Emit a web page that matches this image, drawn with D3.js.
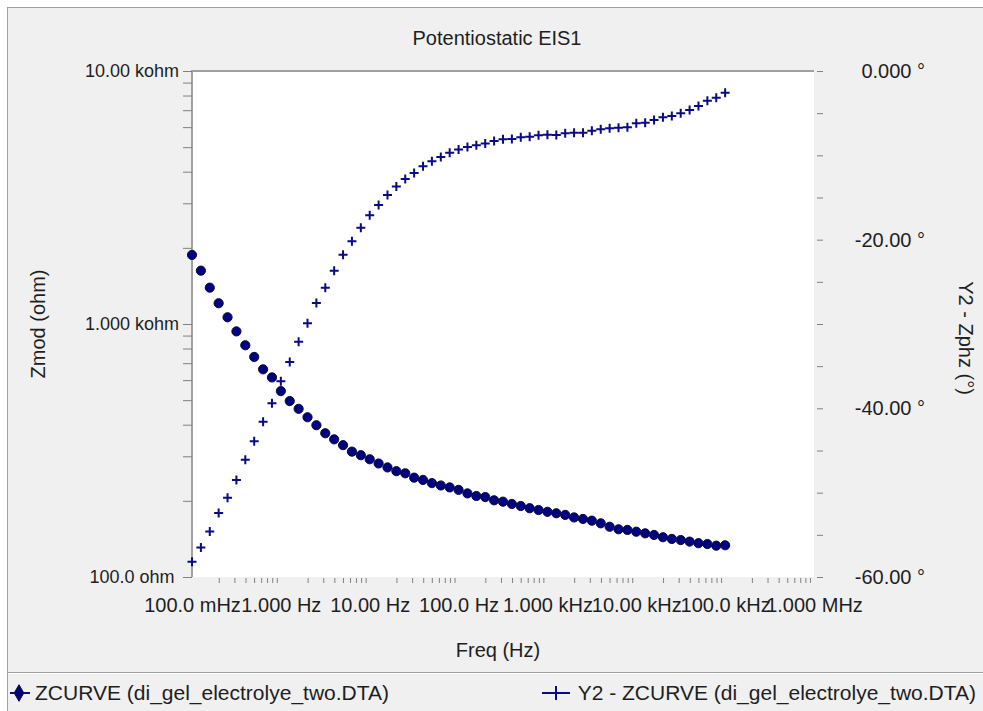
<!DOCTYPE html>
<html><head><meta charset="utf-8">
<script src="https://cdn.jsdelivr.net/npm/d3@7/dist/d3.min.js"></script>
<style>
html,body{margin:0;padding:0;background:#fff;}
svg{display:block;font-family:"Liberation Sans",Arial,sans-serif;}
</style></head>
<body>
<svg id="chart" width="983" height="711"></svg>
<script>
// ---- data ----
const freq = [0.1,0.1259,0.1585,0.1995,0.2512,0.3162,0.3981,0.5012,0.631,0.7943,
 1,1.259,1.585,1.995,2.512,3.162,3.981,5.012,6.31,7.943,
 10,12.59,15.85,19.95,25.12,31.62,39.81,50.12,63.1,79.43,
 100,125.9,158.5,199.5,251.2,316.2,398.1,501.2,631,794.3,
 1000,1259,1585,1995,2512,3162,3981,5012,6310,7943,
 10000,12589,15849,19953,25119,31623,39811,50119,63096,79433,100000];
const zmod = [1875,1625,1392,1208,1063,935,824,741,662,615,
 543,496,462,428,398,370,350,332,313,303,
 292,281,271,262,257,247,242,235,230,226,
 221,214,209,207,201,198.5,194.4,190.8,187,184,
 181,178.6,176,172,169.6,167,163,158,154.4,153.5,
 151,148.8,146.6,143.6,141.4,140,138,136,135,133,133.5];
const zphz = [-58.2,-56.5,-54.6,-52.4,-50.6,-48.5,-46.1,-43.9,-41.6,-39.4,
 -36.8,-34.5,-32.1,-29.9,-27.5,-25.7,-23.7,-21.8,-20.2,-18.6,
 -17.1,-15.9,-14.7,-13.7,-12.8,-12.1,-11.3,-10.7,-10.2,-9.7,
 -9.3,-9.0,-8.8,-8.6,-8.3,-8.1,-8.05,-7.86,-7.79,-7.62,
 -7.55,-7.59,-7.39,-7.32,-7.32,-7.08,-6.91,-6.79,-6.72,-6.68,
 -6.2,-6.13,-5.81,-5.49,-5.34,-5.02,-4.62,-4.15,-3.52,-3.17,-2.57];
const xTickValues = [0.1,1,10,100,1000,10000,100000,1000000];
const xTickLabels = ["100.0 mHz","1.000 Hz","10.00 Hz","100.0 Hz","1.000 kHz","10.00 kHz","100.0 kHz","1.000 MHz"];
const yLeftValues = [100,1000,10000];
const yLeftLabels = ["100.0 ohm","1.000 kohm","10.00 kohm"];
const yRightValues = [-60,-40,-20,0];
const yRightLabels = ["-60.00 °","-40.00 °","-20.00 °","0.000 °"];
const title = "Potentiostatic EIS1";
const xTitle = "Freq (Hz)";
const yLeftTitle = "Zmod (ohm)";
const yRightTitle = "Y2 - Zphz (°)";
const legend1 = "ZCURVE (di_gel_electrolye_two.DTA)";
const legend2 = "Y2 - ZCURVE (di_gel_electrolye_two.DTA)";

// ---- layout ----
const L = 192, R = 814, T = 71, B = 577;
const FS = 20;
const textColor = "#1e1e1e";
const svg = d3.select("#chart");

// panel
svg.append("rect").attr("x",7).attr("y",7).attr("width",976).attr("height",704).attr("fill","#f0f0f0");
svg.append("line").attr("x1",7).attr("x2",983).attr("y1",7.5).attr("y2",7.5).attr("stroke","#a0a0a0");
svg.append("line").attr("x1",7.5).attr("x2",7.5).attr("y1",7).attr("y2",711).attr("stroke","#a0a0a0");
// separator above legend
svg.append("line").attr("x1",8).attr("x2",983).attr("y1",672.5).attr("y2",672.5).attr("stroke","#a0a0a0");
svg.append("line").attr("x1",8).attr("x2",983).attr("y1",673.5).attr("y2",673.5).attr("stroke","#ffffff");

// plot area
svg.append("rect").attr("x",L).attr("y",T).attr("width",R-L).attr("height",B-T).attr("fill","#ffffff");

const x = d3.scaleLog().domain([0.1,1e6]).range([L,R]);
const yL = d3.scaleLog().domain([100,10000]).range([B,T]);
const yR = d3.scaleLinear().domain([-60,0]).range([B,T]);

// frame lines
svg.append("line").attr("x1",L).attr("x2",R).attr("y1",T).attr("y2",T).attr("stroke","#a0a0a0").attr("stroke-width",2);
svg.append("line").attr("x1",L).attr("x2",L).attr("y1",T-1).attr("y2",B).attr("stroke","#a0a0a0").attr("stroke-width",2);

function styleAxis(g, fs){
  g.select(".domain").remove();
  g.selectAll(".tick line").attr("stroke","#808080");
  g.selectAll("text").attr("fill",textColor).style("font-size",(fs||FS)+"px").style("font-family",'"Liberation Sans",Arial,sans-serif');
}

// x minor ticks
const xMinor = [];
for (let d=0; d<7; d++){ const base = xTickValues[d]; [2,3,4,5,6,7,8,9].forEach(m=>xMinor.push(base*m)); }
svg.append("g").attr("transform",`translate(0,${B+1})`)
  .call(d3.axisBottom(x).tickValues(xMinor).tickSize(5).tickFormat(""))
  .call(styleAxis);
// x labels
svg.append("g").attr("transform",`translate(0,${B})`)
  .call(d3.axisBottom(x).tickValues(xTickValues).tickSize(0).tickPadding(21).tickFormat((d,i)=>xTickLabels[i]))
  .call(styleAxis);

// left minor+major ticks
const yMinor = [];
[100,1000].forEach(b=>[1,2,3,4,5,6,7,8,9].forEach(m=>yMinor.push(b*m)));
yMinor.push(10000);
svg.append("g").attr("transform",`translate(${L},0)`)
  .call(d3.axisLeft(yL).tickValues(yMinor).tickSize(9).tickFormat(""))
  .call(styleAxis);
const gL = svg.append("g").attr("transform",`translate(${L},0)`)
  .call(d3.axisLeft(yL).tickValues(yLeftValues).tickSize(0).tickPadding(60).tickFormat((d,i)=>yLeftLabels[i]))
  .call(g=>styleAxis(g,18));
gL.selectAll("text").attr("text-anchor","middle");

// right ticks
svg.append("g").attr("transform",`translate(${R+3},0)`)
  .call(d3.axisRight(yR).tickValues(d3.range(-60,1,5)).tickSize(6).tickFormat(""))
  .call(styleAxis);
const gR = svg.append("g").attr("transform",`translate(${R},0)`)
  .call(d3.axisRight(yR).tickValues(yRightValues).tickSize(0).tickPadding(111).tickFormat((d,i)=>yRightLabels[i]))
  .call(styleAxis);
gR.selectAll("text").attr("text-anchor","end");

// titles
svg.append("text").attr("x",(L+R)/2+ -6).attr("y",38).attr("dy","0.35em").attr("text-anchor","middle")
  .attr("fill",textColor).style("font-size",FS+"px").text(title);
svg.append("text").attr("x",498).attr("y",650).attr("dy","0.35em").attr("text-anchor","middle")
  .attr("fill",textColor).style("font-size",FS+"px").text(xTitle);
svg.append("text").attr("transform",`translate(38,${(T+B)/2}) rotate(-90)`).attr("dy","0.35em").attr("text-anchor","middle")
  .attr("fill",textColor).style("font-size",FS+"px").text(yLeftTitle);
svg.append("text").attr("transform",`translate(966,${(T+B)/2+14}) rotate(90)`).attr("dy","0.35em").attr("text-anchor","middle")
  .attr("fill",textColor).style("font-size",FS+"px").text(yRightTitle);

// data
const data = freq.map((f,i)=>({f, z:zmod[i], p:zphz[i]}));
const navy = "#0a0a82";
svg.append("g").selectAll("circle").data(data).join("circle")
  .attr("cx",d=>x(d.f)).attr("cy",d=>yL(d.z)).attr("r",4.6)
  .attr("fill","#000080").attr("stroke","#0a0a3a").attr("stroke-width",1);
const cs = 4.5;
svg.append("g").selectAll("path").data(data).join("path")
  .attr("d",d=>{const cx=x(d.f), cy=yR(d.p); return `M${cx-cs},${cy}H${cx+cs}M${cx},${cy-cs}V${cy+cs}`;})
  .attr("stroke",navy).attr("stroke-width",2).attr("fill","none");

// legend
const ly = 693, LFS = 21;
const lg = svg.append("g");
lg.append("line").attr("x1",10).attr("x2",30).attr("y1",ly).attr("y2",ly).attr("stroke",navy).attr("stroke-width",2);
lg.append("path").attr("d",d3.symbol().type(d3.symbolDiamond).size(80)()).attr("transform",`translate(19,${ly})`)
  .attr("fill","#000080").attr("stroke","#0a0a3a");
lg.append("text").attr("x",35).attr("y",ly).attr("dy","0.35em").attr("fill",textColor).style("font-size",LFS+"px").text(legend1);
lg.append("line").attr("x1",542).attr("x2",570).attr("y1",ly).attr("y2",ly).attr("stroke",navy).attr("stroke-width",2);
lg.append("path").attr("d",`M556,${ly-7}V${ly+7}`).attr("stroke",navy).attr("stroke-width",2);
lg.append("text").attr("x",976).attr("y",ly).attr("dy","0.35em").attr("text-anchor","end").attr("fill",textColor).style("font-size",LFS+"px").text(legend2);
</script>
</body></html>
